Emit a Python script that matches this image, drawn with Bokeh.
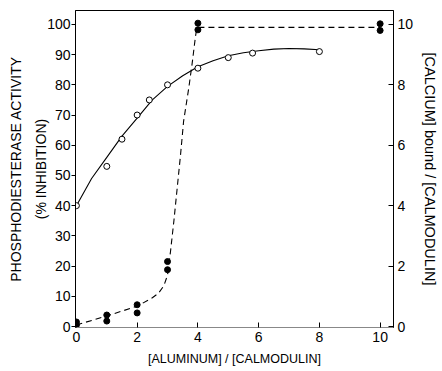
from bokeh.plotting import figure
from bokeh.models import Range1d, LinearAxis, FixedTicker
from bokeh.embed import file_html
from bokeh.resources import INLINE

# Open circles: phosphodiesterase inhibition (left axis)
ratio_open = [0, 1, 1.5, 2, 2.4, 3, 4, 5, 5.8, 8]
inhibition = [40, 53, 62, 70, 75, 80, 85.5, 89, 90.5, 91]

# Solid smooth curve through the open circles
curve_x = [0, 0.5, 1, 1.5, 2, 2.5, 3, 3.5, 4, 4.5, 5, 5.5, 6, 6.5, 7, 7.5, 8]
curve_y = [40, 49, 56, 63, 69, 75, 79.5, 83, 86, 88, 89.6, 90.6, 91.3, 91.8, 92, 91.9, 91.6]

# Filled circles: calcium bound / calmodulin (right axis)
ratio_filled = [0, 0, 1, 1, 2, 2, 3, 3, 4, 4, 10, 10]
calcium = [0.05, 0.15, 0.18, 0.38, 0.45, 0.72, 1.88, 2.15, 9.82, 10.04, 9.8, 10.02]

# Dashed curve through the filled circles
dash_x = [0, 1, 2, 2.5, 2.7, 2.88, 3.0, 3.1, 3.21, 3.32, 3.43, 3.53, 3.7, 3.81, 3.92, 3.97, 10]
dash_y = [0.05, 0.35, 0.67, 0.95, 1.1, 1.35, 1.7, 2.5, 3.5, 4.6, 5.7, 6.8, 7.9, 8.7, 9.6, 9.9, 9.9]

x_ticks = [0, 2, 4, 6, 8, 10]
left_ticks = [0, 10, 20, 30, 40, 50, 60, 70, 80, 90, 100]
right_ticks = [0, 2, 4, 6, 8, 10]

FONT = "Liberation Sans"

p = figure(width=442, height=371, output_backend="svg", toolbar_location=None,
           x_range=Range1d(-0.03, 10.44), y_range=Range1d(-0.33, 104.6),
           min_border_left=75, min_border_right=49, min_border_top=10, min_border_bottom=44)
p.extra_y_ranges = {"ca": Range1d(-0.033, 10.46)}

p.grid.visible = False
p.outline_line_color = "black"
p.outline_line_width = 1
p.background_fill_color = "white"
p.border_fill_color = "white"

# left axis
ya = p.yaxis[0]
ya.ticker = FixedTicker(ticks=left_ticks)
ya.major_tick_out = 4
ya.major_tick_in = 0
ya.minor_tick_out = 0
ya.minor_tick_in = 0
ya.axis_line_color = "black"
ya.major_label_text_font = FONT
ya.major_label_text_font_size = "14px"
ya.major_label_text_color = "black"
ya.major_label_standoff = 1
ya.axis_label = "PHOSPHODIESTERASE ACTIVITY\n(% INHIBITION)"
ya.axis_label_text_font = FONT
ya.axis_label_text_font_size = "14px"
ya.axis_label_text_font_style = "normal"
ya.axis_label_text_color = "black"
ya.axis_label_text_line_height = 1.55
ya.axis_label_standoff = -5

# bottom axis
xa = p.xaxis[0]
xa.ticker = FixedTicker(ticks=x_ticks)
xa.major_tick_in = 5
xa.major_tick_out = 0
xa.minor_tick_in = 0
xa.minor_tick_out = 0
xa.axis_line_color = "#888888"
xa.major_tick_line_color = "black"
xa.major_label_text_font = FONT
xa.major_label_text_font_size = "14px"
xa.major_label_text_color = "black"
xa.major_label_standoff = 4
xa.axis_label = "[ALUMINUM] / [CALMODULIN]"
xa.axis_label_text_font = FONT
xa.axis_label_text_font_size = "12.5px"
xa.axis_label_text_font_style = "normal"
xa.axis_label_text_color = "black"
xa.axis_label_standoff = 7

# right axis
ra = LinearAxis(y_range_name="ca", ticker=FixedTicker(ticks=right_ticks))
ra.major_tick_in = 5
ra.major_tick_out = 0
ra.minor_tick_in = 0
ra.minor_tick_out = 0
ra.axis_line_color = "black"
ra.major_label_text_font = FONT
ra.major_label_text_font_size = "14px"
ra.major_label_text_color = "black"
ra.major_label_standoff = 4
ra.axis_label = "[CALCIUM] bound / [CALMODULIN]"
ra.axis_label_text_font = FONT
ra.axis_label_text_font_size = "14.5px"
ra.axis_label_text_font_style = "normal"
ra.axis_label_text_color = "black"
ra.axis_label_standoff = 6
p.add_layout(ra, "right")

# curves
p.line(curve_x, curve_y, line_color="black", line_width=1.1)
p.line(dash_x, dash_y, y_range_name="ca", line_color="black", line_width=1.1, line_dash="6 4")

# markers
p.scatter(ratio_open, inhibition, size=6, marker="circle", fill_color="white",
          line_color="black", line_width=1)
p.scatter(ratio_filled, calcium, y_range_name="ca", size=6, marker="circle",
          fill_color="black", line_color="black")

open("out.html", "w").write(file_html(p, INLINE))
